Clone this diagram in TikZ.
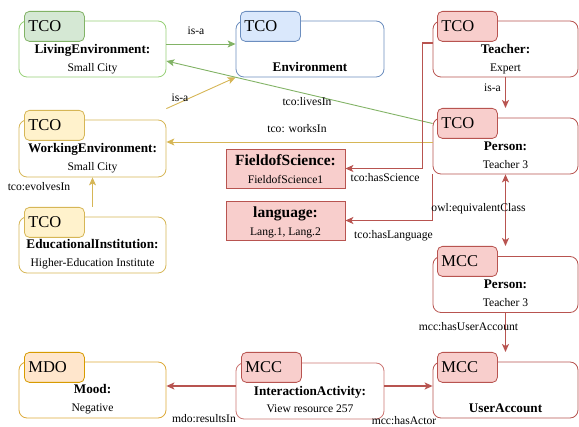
\documentclass[tikz,border=0pt]{standalone}
\usepackage{fontspec}
\setmainfont{Liberation Serif}
\usetikzlibrary{arrows.meta,calc}
\definecolor{greenF}{HTML}{D5E8D4}
\definecolor{greenD}{HTML}{82B366}
\definecolor{greenL}{HTML}{97D077}
\definecolor{blueF}{HTML}{DAE8FC}
\definecolor{blueD}{HTML}{6C8EBF}
\definecolor{yelF}{HTML}{FFF2CC}
\definecolor{yelD}{HTML}{D6B656}
\definecolor{redF}{HTML}{F8CECC}
\definecolor{redD}{HTML}{B85450}
\definecolor{redL}{HTML}{CC7774}
\definecolor{orF}{HTML}{FFE6CC}
\definecolor{orD}{HTML}{D79B00}
\definecolor{orL}{HTML}{DDAA3A}
\begin{document}
\begin{tikzpicture}[x=1pt,y=-1pt,
  box/.style={draw, rounded corners=8pt, minimum height=56pt, inner sep=0pt, fill=white, line width=0.8pt},
  tagbox/.style={draw, rounded corners=5pt, minimum width=60pt, minimum height=30pt, text width=52pt, align=left, inner xsep=4pt, inner ysep=0pt, anchor=north west, line width=0.8pt, font=\fontsize{16.5}{18}\selectfont},
  sqbox/.style={draw=redD, fill=redF, minimum width=119pt, minimum height=39pt, inner sep=0pt, line width=0.8pt},
  title/.style={anchor=base, inner sep=0pt, font=\fontsize{13.2}{15}\selectfont\bfseries},
  bigtitle/.style={anchor=base, inner sep=0pt, font=\fontsize{15.5}{17}\selectfont\bfseries},
  sub/.style={anchor=base, inner sep=0pt, font=\fontsize{11.6}{13}\selectfont},
  elabel/.style={anchor=base, inner sep=0pt, font=\fontsize{11.6}{13}\selectfont},
  arr/.style={line width=0.9pt, -{Stealth[length=8pt,width=7pt,inset=2pt]}},
  redarr/.style={arr, draw=redD, line width=1.2pt, -{Stealth[length=8pt,width=7pt,inset=2pt]}},
]
\useasboundingbox (0,0) rectangle (579,427);

% ---------- boxes ----------
\node[box, draw=greenL, minimum width=147pt] (live) at (92.5,49) {};
\node[tagbox, fill=greenF, draw=greenD] (liveT) at (24,11) {TCO};
\node[title] (liveA) at (92.5,53.5) {LivingEnvironment:};
\node[sub] (liveB) at (92.5,72) {Small City};

\node[box, draw=blueD, minimum width=148pt] (env) at (310,49) {};
\node[tagbox, fill=blueF, draw=blueD] (envT) at (240,11) {TCO};
\node[title] (envA) at (310,71.5) {Environment};

\node[box, draw=redD, minimum width=145pt] (teach) at (505.5,49) {};
\node[tagbox, fill=redF, draw=redD] (teachT) at (437,11) {TCO};
\node[title] (teachA) at (505.5,53.5) {Teacher:};
\node[sub] (teachB) at (505.5,72) {Expert};

\node[box, draw=redD, minimum width=145pt] (perT) at (505.5,146) {};
\node[tagbox, fill=redF, draw=redD] (perTT) at (437,108) {TCO};
\node[title] (perTA) at (505.5,150.5) {Person:};
\node[sub] (perTB) at (505.5,168.5) {Teacher 3};

\node[box, draw=yelD, minimum width=147pt, minimum height=57pt] (work) at (92.5,148.5) {};
\node[tagbox, fill=yelF, draw=yelD] (workT) at (24,110) {TCO};
\node[title] (workA) at (92.5,152.5) {WorkingEnvironment:};
\node[sub] (workB) at (92.5,170.5) {Small City};

\node[box, draw=yelD, minimum width=147pt] (edu) at (92.5,245) {};
\node[tagbox, fill=yelF, draw=yelD] (eduT) at (24,207) {TCO};
\node[title] (eduA) at (92.5,248.5) {EducationalInstitution:};
\node[sub] (eduB) at (92.5,267) {Higher-Education Institute};

\node[sqbox] (fos) at (285.5,168.5) {};
\node[bigtitle] (fosA) at (285.5,165.5) {FieldofScience:};
\node[sub] (fosB) at (285.5,183.5) {FieldofScience1};

\node[sqbox] (lang) at (285.5,220.5) {};
\node[bigtitle] (langA) at (285.5,217.5) {language:};
\node[sub] (langB) at (285.5,235.5) {Lang.1, Lang.2};

\node[box, draw=redD, minimum width=145pt] (perM) at (505.5,284.5) {};
\node[tagbox, fill=redF, draw=redD] (perMT) at (437,246) {MCC};
\node[title] (perMA) at (505.5,289) {Person:};
\node[sub] (perMB) at (505.5,307) {Teacher 3};

\node[box, draw=orL, minimum width=147pt] (mood) at (92.5,390) {};
\node[tagbox, fill=orF, draw=orD] (moodT) at (24,352) {MDO};
\node[title] (moodA) at (92.5,393.5) {Mood:};
\node[sub] (moodB) at (92.5,412) {Negative};

\node[box, draw=redL, minimum width=148pt] (act) at (310,391) {};
\node[tagbox, fill=redF, draw=redD] (actT) at (241,352) {MCC};
\node[title] (actA) at (310,395.5) {InteractionActivity:};
\node[sub] (actB) at (310,413) {View resource 257};

\node[box, draw=redD, minimum width=145pt] (user) at (505.5,390) {};
\node[tagbox, fill=redF, draw=redD] (userT) at (437,352) {MCC};
\node[title] (userA) at (505.5,412.5) {UserAccount};

% ---------- connectors ----------
\draw[arr, draw=greenD] ([yshift=5pt]live.east) -- ([yshift=5pt]env.west);
\draw[arr, draw=yelD] ([yshift=11pt]work.north east) -- (env.south west);
\draw[arr, draw=greenD] ([yshift=22.5pt]perT.west) -- ([yshift=-12pt]live.east);
\draw[arr, draw=yelD] ([yshift=4pt]perT.west) -- ([yshift=6.5pt]work.east);
\draw[redarr] ([yshift=6pt]teach.west) -- ++(-10,0) |- (fos.east);
\draw[redarr] (perT.south west) |- (lang.east);
\draw[redarr, {Stealth[length=8pt,width=7pt,inset=2pt]}-{Stealth[length=8pt,width=7pt,inset=2pt]}] (perT.south) -- (perT.south |- perMT.north);
\draw[redarr] (teach.south) -- (teach.south |- perTT.north);
\draw[redarr] (perM.south) -- (perM.south |- userT.north);
\draw[redarr] ([yshift=5pt]act.east) -- ([yshift=4pt]user.west);
\draw[redarr] ([yshift=5pt]act.west) -- ([yshift=4pt]mood.east);
\draw[arr, draw=yelD] (edu.north |- eduT.north) -- (work.south);

% ---------- connector labels ----------
\node[elabel] (l1) at (196,35) {is-a};
\node[elabel] (l2) at (180,102) {is-a};
\node[elabel] (l3) at (307,106) {tco:livesIn};
\node[elabel] (l4) at (297,133) {tco: worksIn};
\node[elabel] (l5) at (385,182) {tco:hasScience};
\node[elabel] (l6) at (393.5,239) {tco:hasLanguage};
\node[elabel] (l7) at (478.5,212) {owl:equivalentClass};
\node[elabel] (l8) at (492.5,92) {is-a};
\node[elabel] (l9) at (468.5,331) {mcc:hasUserAccount};
\node[elabel] (l10) at (404,424.5) {mcc:hasActor};
\node[elabel] (l11) at (204,423) {mdo:resultsIn};
\node[elabel] (l12) at (39,191) {tco:evolvesIn};
\end{tikzpicture}
\end{document}
